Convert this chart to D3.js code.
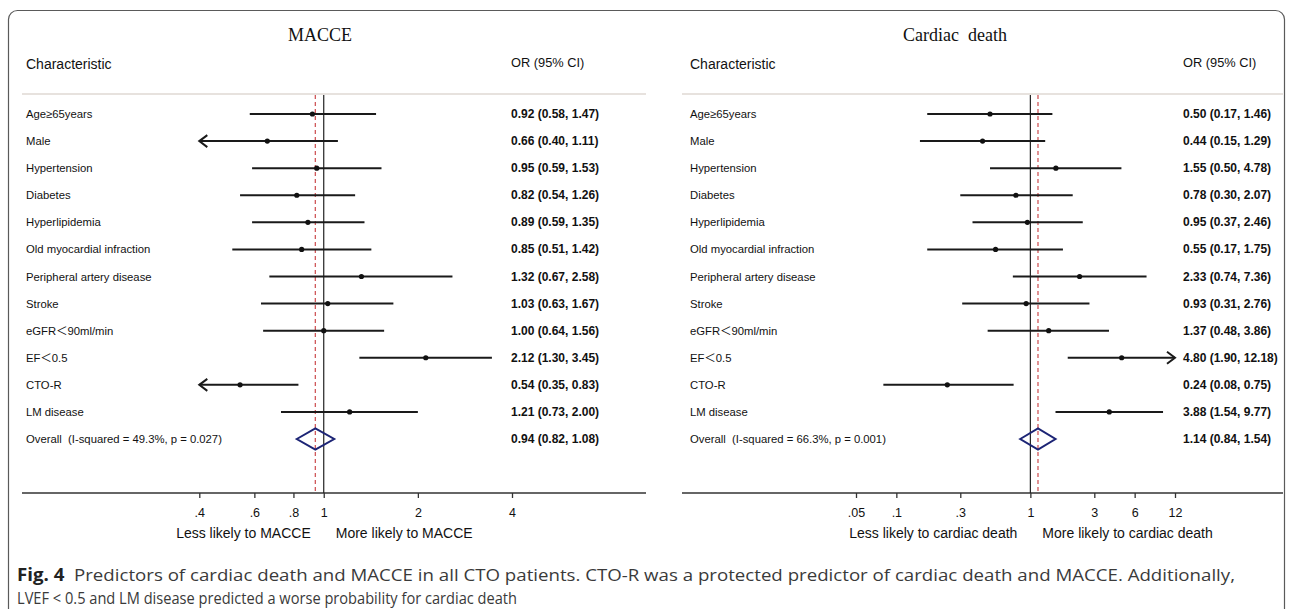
<!DOCTYPE html>
<html lang="en">
<head>
<meta charset="UTF-8">
<title>Forest plots</title>
<script src="https://d3js.org/d3.v7.min.js"></script>
<style>
  body { margin: 0; background: #fff; }
  svg text { white-space: pre; }
  .chart text { font-family: "Liberation Sans", Arial, sans-serif; }
  .cjk { font-family: "Noto Sans CJK SC", sans-serif; }
</style>
</head>
<body>
<svg></svg>
<script>
const width = 1292, height = 609;

// rows
const categories = ["Age≥65years", "Male", "Hypertension", "Diabetes", "Hyperlipidemia",
  "Old myocardial infraction", "Peripheral artery disease", "Stroke", "eGFR＜90ml/min",
  "EF＜0.5", "CTO-R", "LM disease"];

// MACCE panel
const macceOR = [0.92, 0.66, 0.95, 0.82, 0.89, 0.85, 1.32, 1.03, 1.00, 2.12, 0.54, 1.21];
const macceLo = [0.58, 0.40, 0.59, 0.54, 0.59, 0.51, 0.67, 0.63, 0.64, 1.30, 0.35, 0.73];
const macceHi = [1.47, 1.11, 1.53, 1.26, 1.35, 1.42, 2.58, 1.67, 1.56, 3.45, 0.83, 2.00];
const macceOverall = [0.94, 0.82, 1.08];
const macceOverallLabel = "Overall  (I-squared = 49.3%, p = 0.027)";
const macceTicks = [0.4, 0.6, 0.8, 1, 2, 4];
const macceTickLabels = [".4", ".6", ".8", "1", "2", "4"];

// Cardiac death panel
const cardiacOR = [0.50, 0.44, 1.55, 0.78, 0.95, 0.55, 2.33, 0.93, 1.37, 4.80, 0.24, 3.88];
const cardiacLo = [0.17, 0.15, 0.50, 0.30, 0.37, 0.17, 0.74, 0.31, 0.48, 1.90, 0.08, 1.54];
const cardiacHi = [1.46, 1.29, 4.78, 2.07, 2.46, 1.75, 7.36, 2.76, 3.86, 12.18, 0.75, 9.77];
const cardiacOverall = [1.14, 0.84, 1.54];
const cardiacOverallLabel = "Overall  (I-squared = 66.3%, p = 0.001)";
const cardiacTicks = [0.05, 0.1, 0.3, 1, 3, 6, 12];
const cardiacTickLabels = [".05", ".1", ".3", "1", "3", "6", "12"];

const svg = d3.select("svg").attr("width", width).attr("height", height);

// outer frame
svg.append("rect")
  .attr("x", 8.5).attr("y", 10.5).attr("width", 1276).attr("height", 610)
  .attr("rx", 9).attr("fill", "none").attr("stroke", "#5a5a5a").attr("stroke-width", 1.2);

const chart = svg.append("g").attr("class", "chart");
const y = d3.scalePoint().domain(d3.range(13)).range([114, 439]);
const fmt = d3.format(".2f");

// full-width "＜" sits in a CJK font, like the original
function labelText(sel) {
  sel.each(function (d) {
    const t = d3.select(this);
    d.split(/(＜)/).filter(s => s.length).forEach(part => {
      const ts = t.append("tspan").text(part);
      if (part === "＜") ts.attr("class", "cjk");
    });
  });
}

function panel(o) {
  const g = chart.append("g");
  const x = d3.scaleLog().domain([o.ticks[0], o.ticks[o.ticks.length - 1]]).range(o.range);
  const lo = o.ticks[0], hi = o.ticks[o.ticks.length - 1];

  g.append("text").attr("x", o.titleX).attr("y", 41).attr("text-anchor", "middle")
    .style("font-family", "'Liberation Serif', 'Times New Roman', serif")
    .attr("font-size", 18).attr("fill", "#111").text(o.title);
  g.append("text").attr("x", o.left).attr("y", 69).attr("font-size", 14).attr("fill", "#111").text("Characteristic");
  g.append("text").attr("x", o.valX).attr("y", 67).attr("font-size", 12.8).attr("fill", "#111").text("OR (95% CI)");

  // header rule
  g.append("line").attr("x1", o.lineX[0]).attr("x2", o.lineX[1]).attr("y1", 94).attr("y2", 94)
    .attr("stroke", "#e7e2de").attr("stroke-width", 2);

  // axis baseline
  g.append("line").attr("x1", o.lineX[0]).attr("x2", o.lineX[1]).attr("y1", 493).attr("y2", 493)
    .attr("stroke", "#333").attr("stroke-width", 1.6);

  // null line and overall line
  g.append("line").attr("x1", x(1)).attr("x2", x(1)).attr("y1", 95).attr("y2", 493)
    .attr("stroke", "#222").attr("stroke-width", 1.2);
  g.append("line").attr("x1", x(o.overall[0])).attr("x2", x(o.overall[0])).attr("y1", 95).attr("y2", 493)
    .attr("stroke", "#d0585a").attr("stroke-width", 1.3).attr("stroke-dasharray", "4,3");

  // labels
  const labels = categories.concat([o.overallLabel]);
  g.selectAll("text.lab").data(labels).join("text").attr("class", "lab")
    .attr("x", o.left).attr("y", (d, i) => y(i) + 4).attr("font-size", 11.3).attr("fill", "#111")
    .call(labelText);

  const vals = o.or.map((d, i) => [d, o.lo[i], o.hi[i]]).concat([o.overall]);
  g.selectAll("text.val").data(vals).join("text").attr("class", "val")
    .attr("x", o.valX).attr("y", (d, i) => y(i) + 4).attr("font-size", 12).attr("font-weight", "bold")
    .attr("fill", "#111")
    .text(d => `${fmt(d[0])} (${fmt(d[1])}, ${fmt(d[2])})`);

  // CI lines
  const rows = vals.slice(0, 12);
  g.selectAll("line.ci").data(rows).join("line").attr("class", "ci")
    .attr("x1", d => x(Math.max(d[1], lo))).attr("x2", d => x(Math.min(d[2], hi)))
    .attr("y1", (d, i) => y(i)).attr("y2", (d, i) => y(i))
    .attr("stroke", "#1a1a1a").attr("stroke-width", 2);

  // arrows where CI leaves the axis range
  rows.forEach((d, i) => {
    if (d[1] <= lo) {
      const ax = x(lo), ay = y(i);
      g.append("path").attr("d", `M${ax + 8},${ay - 6}L${ax},${ay}L${ax + 8},${ay + 6}`)
        .attr("fill", "none").attr("stroke", "#1a1a1a").attr("stroke-width", 2);
    }
    if (d[2] >= hi) {
      const ax = x(hi), ay = y(i);
      g.append("path").attr("d", `M${ax - 8},${ay - 6}L${ax},${ay}L${ax - 8},${ay + 6}`)
        .attr("fill", "none").attr("stroke", "#1a1a1a").attr("stroke-width", 2);
    }
  });

  g.selectAll("circle.pt").data(rows).join("circle").attr("class", "pt")
    .attr("cx", d => x(d[0])).attr("cy", (d, i) => y(i)).attr("r", 2.6).attr("fill", "#111");

  // overall diamond
  const dy = y(12), ov = o.overall;
  g.append("path")
    .attr("d", `M${x(ov[1])},${dy}L${x(ov[0])},${dy - 10.5}L${x(ov[2])},${dy}L${x(ov[0])},${dy + 10.5}Z`)
    .attr("fill", "none").attr("stroke", "#1c2475").attr("stroke-width", 2);

  // axis
  const axis = d3.axisBottom(x).tickValues(o.ticks).tickFormat((d, i) => o.tickLabels[i]).tickSize(5).tickPadding(10);
  const ag = g.append("g").attr("transform", "translate(0,493)").call(axis);
  ag.select(".domain").remove();
  ag.selectAll(".tick line").attr("stroke", "#333").attr("stroke-width", 1.3);
  ag.selectAll(".tick text").attr("font-size", 12.5).attr("fill", "#111")
    .style("font-family", "'Liberation Sans', Arial, sans-serif");

  g.append("text").attr("x", x(1) - 13).attr("y", 538).attr("text-anchor", "end")
    .attr("font-size", 14).attr("fill", "#111").text(o.lessLabel);
  g.append("text").attr("x", x(1) + 12).attr("y", 538)
    .attr("font-size", 14).attr("fill", "#111").text(o.moreLabel);
}

panel({
  title: "MACCE", titleX: 320, left: 26, valX: 511, lineX: [22, 646],
  range: [199.3, 512], ticks: macceTicks, tickLabels: macceTickLabels,
  or: macceOR, lo: macceLo, hi: macceHi, overall: macceOverall, overallLabel: macceOverallLabel,
  lessLabel: "Less likely to MACCE", moreLabel: "More likely to MACCE"
});

panel({
  title: "Cardiac  death", titleX: 955, left: 690, valX: 1183, lineX: [682, 1283],
  range: [856, 1175], ticks: cardiacTicks, tickLabels: cardiacTickLabels,
  or: cardiacOR, lo: cardiacLo, hi: cardiacHi, overall: cardiacOverall, overallLabel: cardiacOverallLabel,
  lessLabel: "Less likely to cardiac death", moreLabel: "More likely to cardiac death"
});

// caption
const capFont = "'Open Sans', 'Noto Sans', sans-serif";
const c1 = svg.append("text").attr("x", 17).attr("y", 581).attr("font-size", 17)
  .style("font-family", capFont).attr("fill", "#3a3a3a")
  .attr("textLength", 1218).attr("lengthAdjust", "spacingAndGlyphs");
c1.append("tspan").attr("font-weight", "bold").attr("fill", "#222").text("Fig. 4");
c1.append("tspan").text("  Predictors of cardiac death and MACCE in all CTO patients. CTO-R was a protected predictor of cardiac death and MACCE. Additionally,");
svg.append("text").attr("x", 17).attr("y", 604).attr("font-size", 17)
  .style("font-family", capFont).attr("fill", "#3a3a3a")
  .attr("textLength", 500).attr("lengthAdjust", "spacingAndGlyphs")
  .text("LVEF < 0.5 and LM disease predicted a worse probability for cardiac death");
</script>
</body>
</html>
